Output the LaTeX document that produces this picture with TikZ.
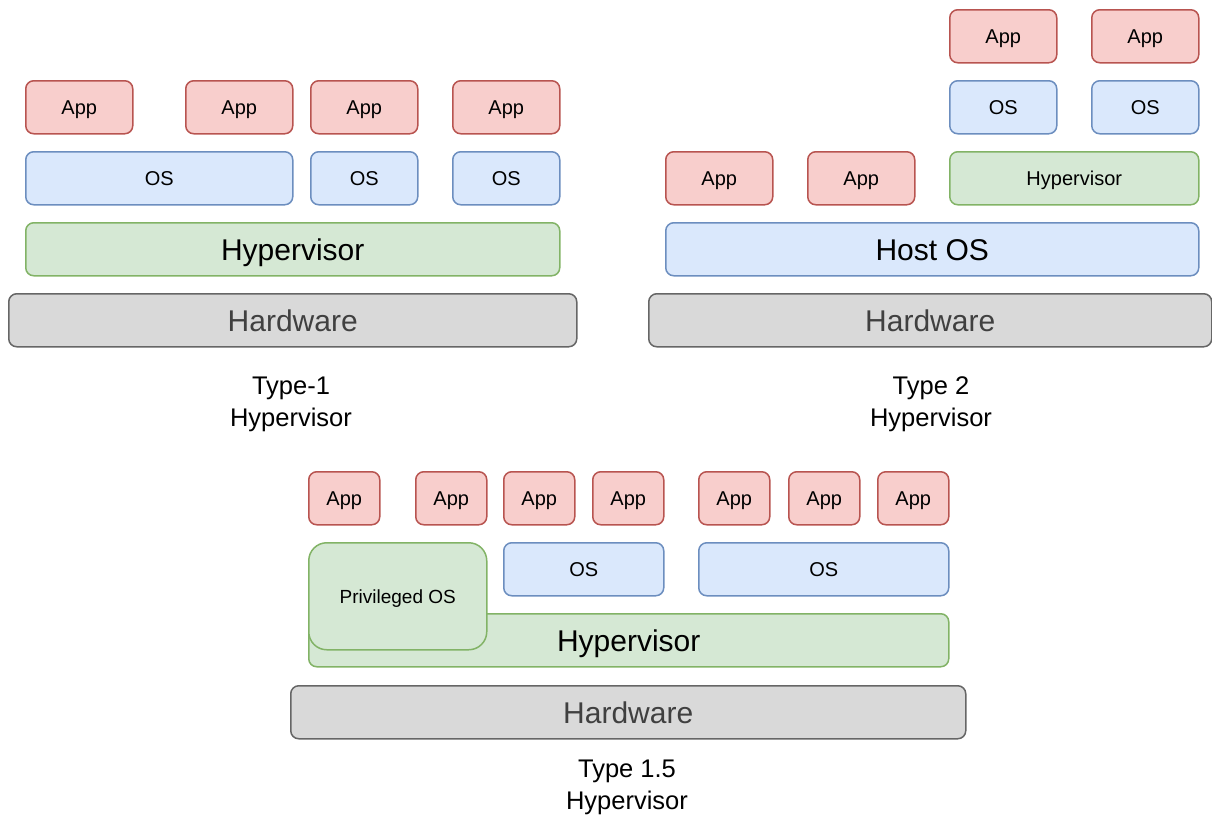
\documentclass[tikz,border=0pt]{standalone}
\usepackage{fontspec}
\setmainfont{Liberation Sans}
\definecolor{appfill}{HTML}{F8CECC}
\definecolor{appline}{HTML}{B85450}
\definecolor{osfill}{HTML}{DAE8FC}
\definecolor{osline}{HTML}{6C8EBF}
\definecolor{hvfill}{HTML}{D5E8D4}
\definecolor{hvline}{HTML}{82B366}
\definecolor{hwfill}{HTML}{D9D9D9}
\definecolor{hwline}{HTML}{666666}
\definecolor{hwtext}{HTML}{404040}
\tikzset{
  layer/.style={draw, line width=1.5pt, rounded corners=8pt, anchor=north west,
    inner sep=0pt, minimum height=53pt, text depth=0pt},
  small/.style={font=\fontsize{20}{24}\selectfont, text height=14.3pt},
  big/.style={font=\fontsize{30}{36}\selectfont, text height=21.5pt},
  appbox/.style={layer, small, fill=appfill, draw=appline},
  osbox/.style={layer, small, fill=osfill, draw=osline},
  hostbox/.style={layer, big, fill=osfill, draw=osline},
  hvbox/.style={layer, fill=hvfill, draw=hvline},
  hwbox/.style={layer, big, fill=hwfill, draw=hwline, text=hwtext},
  caption/.style={align=center, font=\fontsize{25.5}{32}\selectfont}
}
\begin{document}
\begin{tikzpicture}[x=1pt, y=-1pt]
\useasboundingbox (0,0) rectangle (1212,814);
\clip (0,0) rectangle (1212,814);

% Type-1: hypervisor directly on hardware
\node[appbox, minimum width=107pt] (t1app1) at (25,80) {App};
\node[appbox, minimum width=107pt] (t1app2) at (185,80) {App};
\node[appbox, minimum width=107pt] (t1app3) at (310,80) {App};
\node[appbox, minimum width=107pt] (t1app4) at (452,80) {App};
\node[osbox, minimum width=267pt] (t1os1) at (25,151) {OS};
\node[osbox, minimum width=107pt] (t1os2) at (310,151) {OS};
\node[osbox, minimum width=107pt] (t1os3) at (452,151) {OS};
\node[hvbox, big, minimum width=534pt] (t1hyp) at (25,222) {Hypervisor};
\node[hwbox, minimum width=568pt] (t1hw) at (8,293) {Hardware};
\node[caption] (t1cap) at (291,404) {Type-1\\Hypervisor};

% Type 2: hypervisor as an application of a host OS
\node[appbox, minimum width=107pt] (t2app1) at (949,9) {App};
\node[appbox, minimum width=107pt] (t2app2) at (1091,9) {App};
\node[osbox, minimum width=107pt] (t2os1) at (949,80) {OS};
\node[osbox, minimum width=107pt] (t2os2) at (1091,80) {OS};
\node[appbox, minimum width=107pt] (t2app3) at (665,151) {App};
\node[appbox, minimum width=107pt] (t2app4) at (807,151) {App};
\node[hvbox, small, minimum width=249pt] (t2hyp) at (949,151) {Hypervisor};
\node[hostbox, minimum width=533pt] (t2host) at (665,222) {Host OS};
\node[hwbox, minimum width=563pt] (t2hw) at (648,293) {Hardware};
\node[caption] (t2cap) at (931,404) {Type 2\\Hypervisor};

% Type 1.5: hypervisor with a privileged OS
\node[appbox, minimum width=71pt] (t3app1) at (308,471) {App};
\node[appbox, minimum width=71pt] (t3app2) at (415,471) {App};
\node[appbox, minimum width=71pt] (t3app3) at (503,471) {App};
\node[appbox, minimum width=71pt] (t3app4) at (592,471) {App};
\node[appbox, minimum width=71pt] (t3app5) at (698,471) {App};
\node[appbox, minimum width=71pt] (t3app6) at (788,471) {App};
\node[appbox, minimum width=71pt] (t3app7) at (877,471) {App};
\node[osbox, minimum width=160pt] (t3os1) at (503,542) {OS};
\node[osbox, minimum width=250pt] (t3os2) at (698,542) {OS};
\node[hvbox, big, minimum width=640pt] (t3hyp) at (308,613) {Hypervisor};
\node[hvbox, rounded corners=18pt, minimum width=178pt, minimum height=107pt,
  font=\fontsize{19}{23}\selectfont, text height=13.6pt] (t3priv) at (308,542) {Privileged OS};
\node[hwbox, minimum width=675pt] (t3hw) at (290,685) {Hardware};
\node[caption] (t3cap) at (627,787) {Type 1.5\\Hypervisor};
\end{tikzpicture}
\end{document}
